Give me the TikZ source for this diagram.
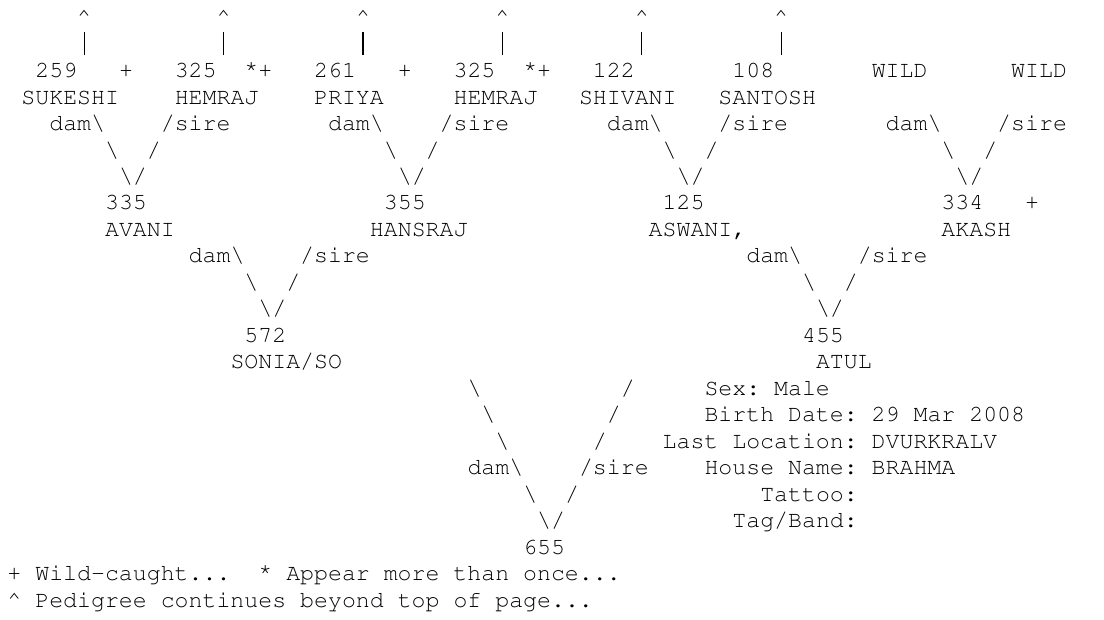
\documentclass[tikz,border=0pt]{standalone}
\usepackage[T1]{fontenc}
\usepackage{courier}
\newcommand{\asciifont}{\ttfamily\frenchspacing\fontsize{23.23pt}{26.47pt}\selectfont}
\newcommand{\bs}{\textbackslash}
\newcommand{\twin}{\raisebox{.22em}{*}}
\newcommand{\vbar}{\rule[-.17em]{.055em}{.98em}}
\tikzset{ch/.style={font=\asciifont,inner sep=0pt,outer sep=0pt,anchor=base west},
  legend/.style={ch,text=black}}

\begin{document}
\begin{tikzpicture}[x=13.94pt,y=-26.47pt]
\fill[white] (-7.5pt,24.7pt) rectangle (1096.5pt,-594.3pt);
\useasboundingbox (-7.5pt,24.7pt) rectangle (1096.5pt,-594.3pt);
\foreach \c [count=\i] in {5,15,...,55}{
  \node[ch] (up\i) at (\c,0) {\textasciicircum};
  \node[ch,anchor=base] (bar\i) at (\c+.5,1) {\vbar};}
\node[ch] (n259) at (2,2) {259};
\node[ch] (w259) at (8,2) {+};
\node[ch] (n325a) at (12,2) {325};
\node[ch] (w325a) at (17,2) {\twin+};
\node[ch] (n261) at (22,2) {261};
\node[ch] (w261) at (28,2) {+};
\node[ch] (n325b) at (32,2) {325};
\node[ch] (w325b) at (37,2) {\twin+};
\node[ch] (n122) at (42,2) {122};
\node[ch] (n108) at (52,2) {108};
\node[ch] (wilda) at (62,2) {WILD};
\node[ch] (wildb) at (72,2) {WILD};
\node[ch] (sukeshi) at (1,3) {SUKESHI};
\node[ch] (hemraja) at (12,3) {HEMRAJ};
\node[ch] (priya) at (22,3) {PRIYA};
\node[ch] (hemrajb) at (32,3) {HEMRAJ};
\node[ch] (shivani) at (41,3) {SHIVANI};
\node[ch] (santosh) at (51,3) {SANTOSH};
\foreach \c in {0,20,40,60}{
  \node[ch] (dam\c) at (\c+3,4) {dam\bs};
  \node[ch] (sire\c) at (\c+11,4) {/sire};
  \node[ch] (bsa\c) at (\c+7,5) {\bs};
  \node[ch] (sla\c) at (\c+10,5) {/};
  \node[ch] (tip\c) at (\c+8,6) {\bs/};}
\node[ch] (n335) at (7,7) {335};
\node[ch] (n355) at (27,7) {355};
\node[ch] (n125) at (47,7) {125};
\node[ch] (n334) at (67,7) {334};
\node[ch] (w334) at (73,7) {+};
\node[ch] (avani) at (7,8) {AVANI};
\node[ch] (hansraj) at (26,8) {HANSRAJ};
\node[ch] (aswani) at (46,8) {ASWANI,};
\node[ch] (akash) at (67,8) {AKASH};
\foreach \c in {0,40}{
  \node[ch] (damm\c) at (\c+13,9) {dam\bs};
  \node[ch] (sirem\c) at (\c+21,9) {/sire};
  \node[ch] (bsm\c) at (\c+17,10) {\bs};
  \node[ch] (slm\c) at (\c+20,10) {/};
  \node[ch] (tipm\c) at (\c+18,11) {\bs/};}
\node[ch] (n572) at (17,12) {572};
\node[ch] (n455) at (57,12) {455};
\node[ch] (sonia) at (16,13) {SONIA/SO};
\node[ch] (atul) at (58,13) {ATUL};
\foreach \k in {0,1,2}{
  \node[ch] (bsb\k) at (33+\k,14+\k) {\bs};
  \node[ch] (slb\k) at (44-\k,14+\k) {/};}
\node[ch] (damb) at (33,17) {dam\bs};
\node[ch] (sireb) at (41,17) {/sire};
\node[ch] (bsb4) at (37,18) {\bs};
\node[ch] (slb4) at (40,18) {/};
\node[ch] (tipb) at (38,19) {\bs/};
\node[ch] (n655) at (37,20) {655};
\node[ch] (sex) at (50,14) {Sex: Male};
\node[ch] (birth) at (50,15) {Birth Date: 29 Mar 2008};
\node[ch] (loc) at (47,16) {Last Location: DVURKRALV};
\node[ch] (house) at (50,17) {House Name: BRAHMA};
\node[ch] (tattoo) at (54,18) {Tattoo:};
\node[ch] (tag) at (52,19) {Tag/Band:};
\node[legend] (keya) at (0,21) {+ Wild-caught...\ \ \twin\ Appear more than once...};
\node[legend] (keyb) at (0,22) {\textasciicircum\ Pedigree continues beyond top of page...};
\end{tikzpicture}
\end{document}
